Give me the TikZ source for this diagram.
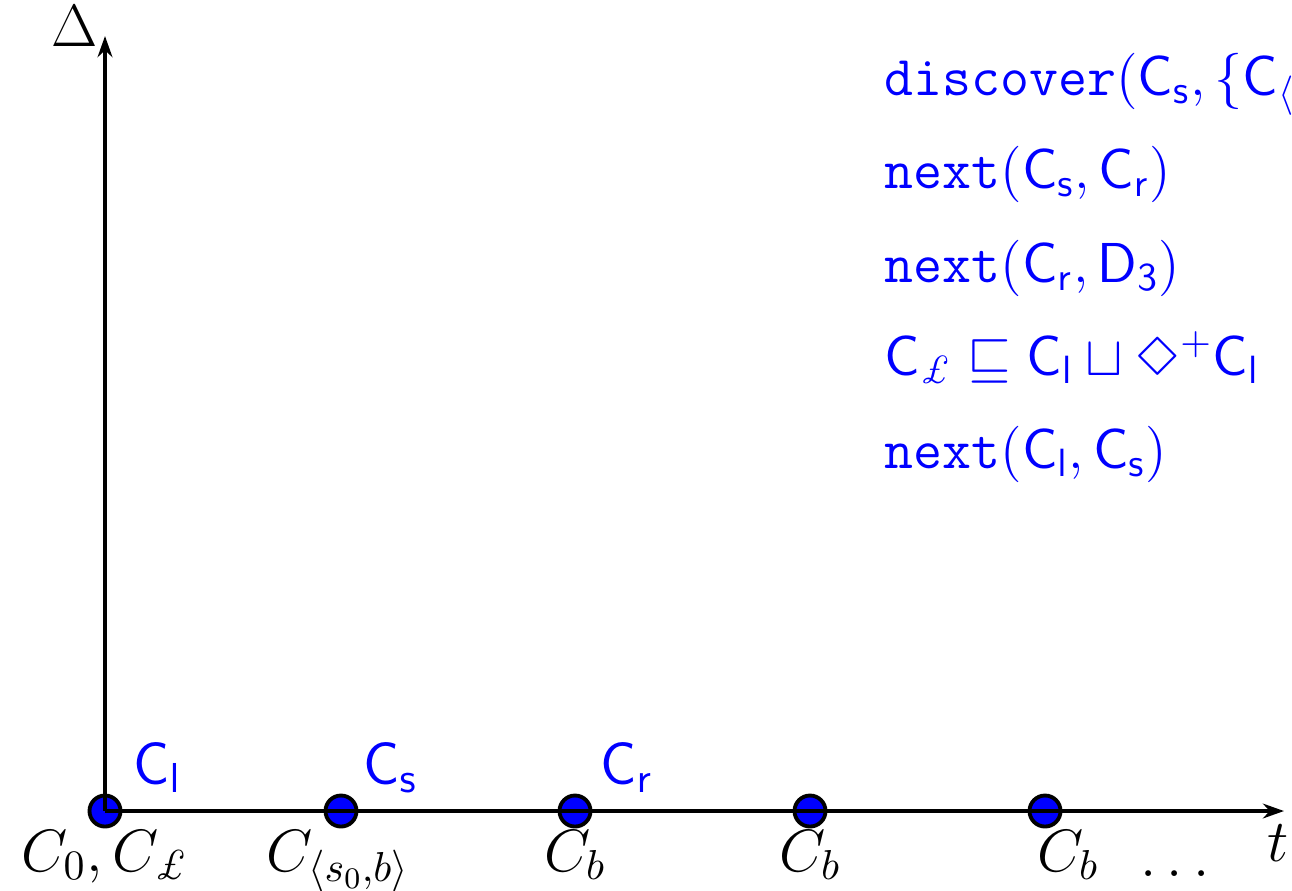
\RequirePackage{fix-cm}
\documentclass[tikz,border=0pt]{standalone}
\usepackage{amsmath,latexsym}
\usepackage{xcolor}
\usetikzlibrary{arrows.meta,positioning}

\begin{document}
\begin{tikzpicture}[x=0.01cm,y=-0.01cm,font=\fontsize{16}{19}\selectfont,>={Stealth[length=6pt,width=4.2pt]},
  ev/.style={circle,draw=black,fill=blue,line width=1.1pt,minimum size=0.31cm,inner sep=0pt},
  tag/.style={text=blue,anchor=base west,inner sep=0pt,font=\fontsize{17}{20}\selectfont},
  conf/.style={anchor=base,inner sep=0pt,font=\fontsize{17}{20}\selectfont},
  stmt/.style={text=blue,anchor=base west,inner sep=0pt},
  axis/.style={->,line width=1.1pt}]
\useasboundingbox[clip] (0,0) rectangle (1292,890);
% events on the time line
\node[ev] (c0) at (105,811) {};
\node[ev] (c1) at (341,811) {};
\node[ev] (c2) at (575,811) {};
\node[ev] (c3) at (810,811) {};
\node[ev] (c4) at (1045,811) {};
% axes
\coordinate (o) at (105,811);
\coordinate (ytop) at (105,36);
\coordinate (xend) at (1284,811);
\draw[axis] (o) -- (ytop);
\draw[axis] (o) -- (xend);
\node[conf] (dl) at (75,46) {$\Delta$};
\node[conf] (tl) at (1278,861) {$t$};
% concept tags above
\node[tag] (tl0) at (133,784) {$\mathsf{C}_\mathsf{l}$};
\node[tag] (tl1) at (363,784) {$\mathsf{C}_\mathsf{s}$};
\node[tag] (tl2) at (600,784) {$\mathsf{C}_\mathsf{r}$};
% configurations below
\node[conf] (b0) at (105,871) {$C_0, C_\pounds$};
\node[conf] (b1) at (338,871) {$C_{\langle s_0,b\rangle}$};
\node[conf] (b2) at (575,871) {$C_b$};
\node[conf] (b3) at (810,871) {$C_b$};
\node[conf] (b4) at (1068,871) {$C_b$};
\node[conf] (bd) at (1180,876) {$\dots$};
% axioms
\node[stmt] (s1) at (884,95) {$\texttt{discover}(\mathsf{C}_\mathsf{s},\{\mathsf{C}_{\langle \mathsf{s}_0,\mathsf{b}\rangle}\})$};
\node[stmt] (s2) at (884,188) {$\texttt{next}(\mathsf{C}_\mathsf{s},\mathsf{C}_\mathsf{r})$};
\node[stmt] (s3) at (884,282) {$\texttt{next}(\mathsf{C}_\mathsf{r},\mathsf{D}_\mathsf{3})$};
\node[stmt] (s4) at (884,375) {$\mathsf{C}_\pounds \sqsubseteq \mathsf{C}_\mathsf{l} \sqcup \Diamond^+\mathsf{C}_\mathsf{l}$};
\node[stmt] (s5) at (884,468) {$\texttt{next}(\mathsf{C}_\mathsf{l},\mathsf{C}_\mathsf{s})$};
\end{tikzpicture}
\end{document}
